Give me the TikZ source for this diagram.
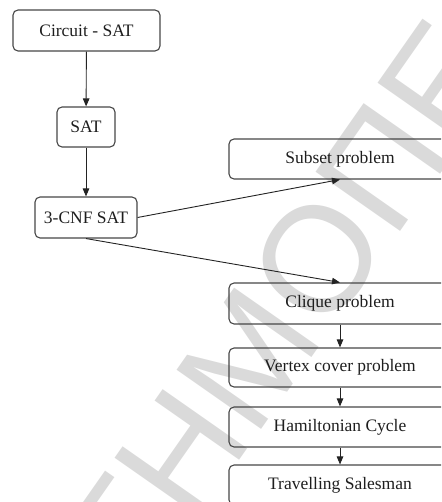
\documentclass[tikz,border=0pt]{standalone}
\usepackage{fontspec}
\setmainfont{Liberation Serif}
\newfontfamily\markfont{Liberation Sans}
\usetikzlibrary{arrows.meta}
\definecolor{boxline}{RGB}{70,70,70}
\definecolor{arrowline}{RGB}{35,35,35}
\definecolor{inkcol}{RGB}{30,30,30}
\definecolor{markgray}{RGB}{218,218,218}
\tikzset{
  stepbox/.style={draw=boxline, line width=1.1pt, rounded corners=5pt,
    inner sep=0pt, text=inkcol, font=\fontsize{17.5}{17.5}\selectfont},
  flow/.style={draw=arrowline, line width=0.9pt,
    -{Triangle[length=8pt,width=6.5pt]}},
  stamp/.style={text=markgray, font=\markfont\fontsize{150}{150}\selectfont,
    inner sep=0pt, rotate=55}
}
\begin{document}
\begin{tikzpicture}[x=1pt,y=-1pt]
\useasboundingbox (0,0) rectangle (441,502);
\clip (0,0) rectangle (441,502);
% background stamp
\node[stamp] (stamp) at (284,307) {ΤΗΜΟΠΕ};
% left column
\node[stepbox, minimum width=147pt, minimum height=41pt] (cs) at (86.5,30.5) {Circuit - SAT};
\node[stepbox, minimum width=58pt, minimum height=40pt] (sat) at (86,127) {SAT};
\node[stepbox, minimum width=102pt, minimum height=41pt] (cnf) at (86,217.5) {3-CNF SAT};
% right column
\node[stepbox, minimum width=222pt, minimum height=40pt] (sub) at (340,159) {Subset problem};
\node[stepbox, minimum width=222pt, minimum height=41pt] (cli) at (340,303.5) {Clique problem};
\node[stepbox, minimum width=222pt, minimum height=39pt] (vc) at (340,367.5) {Vertex cover problem};
\node[stepbox, minimum width=222pt, minimum height=40pt] (ham) at (340,427) {Hamiltonian Cycle};
\node[stepbox, minimum width=222pt, minimum height=40pt] (ts) at (340,485) {Travelling Salesman};
% reductions
\draw[flow] (cs) -- (sat);
\draw[flow] (sat) -- (cnf);
\draw[flow] (cnf.east) -- (sub.south);
\draw[flow] (cnf.south) -- (cli.north);
\draw[flow] (cli) -- (vc);
\draw[flow] (vc) -- (ham);
\draw[flow] (ham) -- (ts);
\end{tikzpicture}
\end{document}
